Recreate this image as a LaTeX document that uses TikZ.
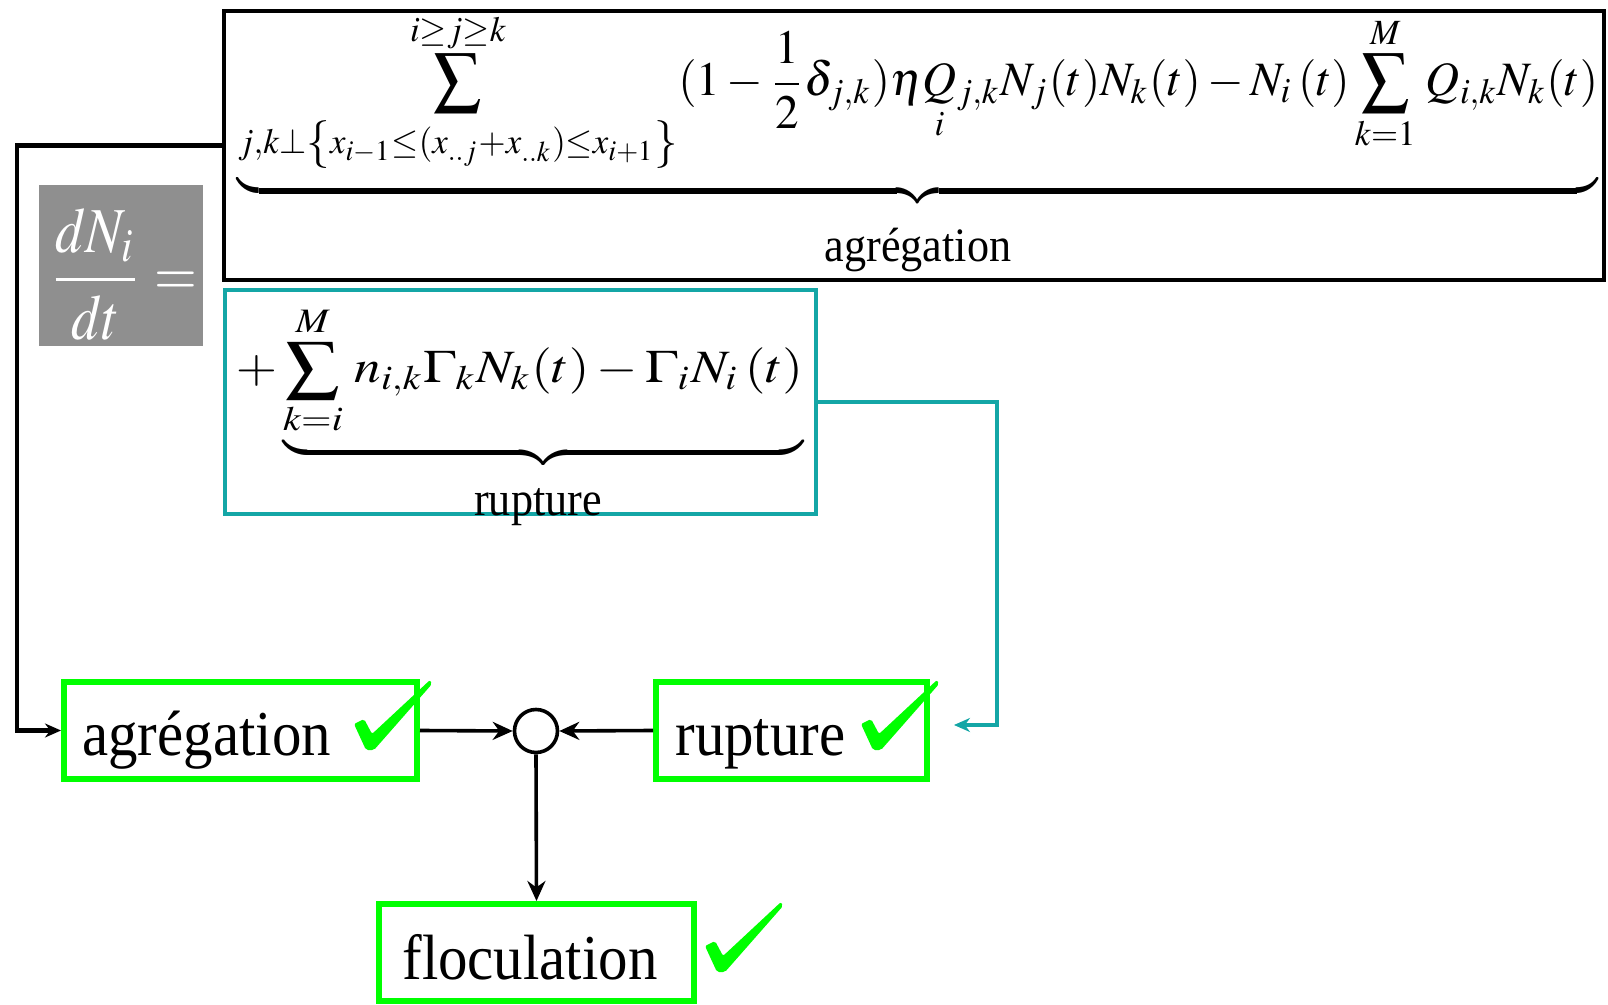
\documentclass[tikz,border=0pt]{standalone}
\usepackage{amsmath}
\usepackage{mathptmx}
\usepackage[no-math]{fontspec}
\setmainfont{Liberation Serif}
\newfontfamily\lblfont[FakeStretch=0.92]{Liberation Serif}
\usepackage{graphicx}
\usetikzlibrary{arrows.meta}
\definecolor{tealc}{RGB}{20,166,166}
\definecolor{bgreen}{RGB}{0,255,0}
\definecolor{boxgray}{RGB}{143,143,143}
\tikzset{
  eqframe/.style={draw=black, line width=2.4pt, inner sep=0pt},
  rupframe/.style={draw=tealc, line width=2.2pt, inner sep=0pt},
  gframe/.style={draw=bgreen, line width=3pt, inner sep=0pt, minimum height=48.5pt},
  lbl/.style={inner sep=0pt, anchor=base west, font=\lblfont\fontsize{32pt}{36pt}\selectfont},
  brlbl/.style={inner sep=0pt, anchor=base, font=\lblfont\fontsize{24pt}{28pt}\selectfont},
  flow/.style={line width=1.8pt, -{Stealth[length=10pt,width=9pt]}},
  feed/.style={line width=2.4pt, -{Stealth[length=8pt,width=7pt]}},
}
\newcommand{\chkmark}[2]{\fill[bgreen, shift={(#1,#2)}, rounded corners=1pt] (-14,-24) -- (-4,-29) .. controls (0,-22) .. (4,-14) -- (62,-68) -- (64,-64) -- (6,2) -- (-2,2) -- cycle;}
\begin{document}
\begin{tikzpicture}[x=0.5pt,y=-0.5pt]
\useasboundingbox (0,0) rectangle (1608,1005);
% frames
\node[eqframe, minimum width=690pt, minimum height=134.5pt] (aggbox) at (914,145.5) {};
\node[fill=boxgray, inner sep=0pt, minimum width=82pt, minimum height=80.5pt] (graybox) at (121,265.5) {};
\node[rupframe, minimum width=295.5pt, minimum height=112pt] (rupbox) at (520.5,402) {};
% equation parts
\node[inner sep=0pt, text=white] (frac) at (123,274) {\resizebox*{74pt}{66pt}{$\displaystyle\frac{dN_i}{dt}=$}};
\node[inner sep=0pt] (aggeq) at (918,110) {\resizebox*{680pt}{98pt}{$\displaystyle\underbrace{\sum_{j,k\perp\left\{x_{i-1}\leq(x_{..j}+x_{..k})\leq x_{i+1}\right\}}^{i\geq j\geq k}(1-\frac{1}{2}\delta_{j,k})\eta\underset{i}{Q}{}_{j,k}N_j(t)N_k(t)-N_i\,(t)\sum_{k=1}^{M}\,Q_{i,k}N_k(t)}$}};
\node[brlbl] (agglbl) at (918,262) {agrégation};
\node[inner sep=0pt] (rupeq) at (519.5,387.5) {\resizebox*{283.5pt}{81.5pt}{$\displaystyle+\underbrace{\sum_{k=i}^{M}\,n_{i,k}\Gamma_kN_k(t)-\Gamma_iN_i\,(t)}$}};
\node[brlbl] (ruplbl) at (538,516) {rupture};
% flow part
\node[gframe, minimum width=176.5pt] (aggnode) at (240.5,730.5) {};
\node[gframe, minimum width=135.5pt] (rupnode) at (791.5,730.5) {};
\node[gframe, minimum width=157.5pt] (flocnode) at (536.5,952.5) {};
\node[lbl] (aggtxt) at (82,755) {agrégation};
\node[lbl] (ruptxt) at (675,755) {rupture};
\node[lbl] (floctxt) at (402,979) {floculation};
\node[circle, draw, line width=1.8pt, minimum size=21.5pt, inner sep=0pt] (sum) at (536,731) {};
\chkmark{368}{748}
\chkmark{875}{748}
\chkmark{719}{970}
% connectors
\coordinate (bl) at (17,145.5);
\draw[feed] (aggbox.west) -- (bl) |- (aggnode.west);
\coordinate (tr) at (997,402);
\coordinate (tend) at (954,725);
\draw[feed, draw=tealc, line width=2pt] (rupbox.east) -- (tr) |- (tend);
\draw[flow] (aggnode.east) -- (sum.west);
\draw[flow] (rupnode.west) -- (sum.east);
\draw[flow] (sum.south) -- (flocnode.north);
\end{tikzpicture}
\end{document}
